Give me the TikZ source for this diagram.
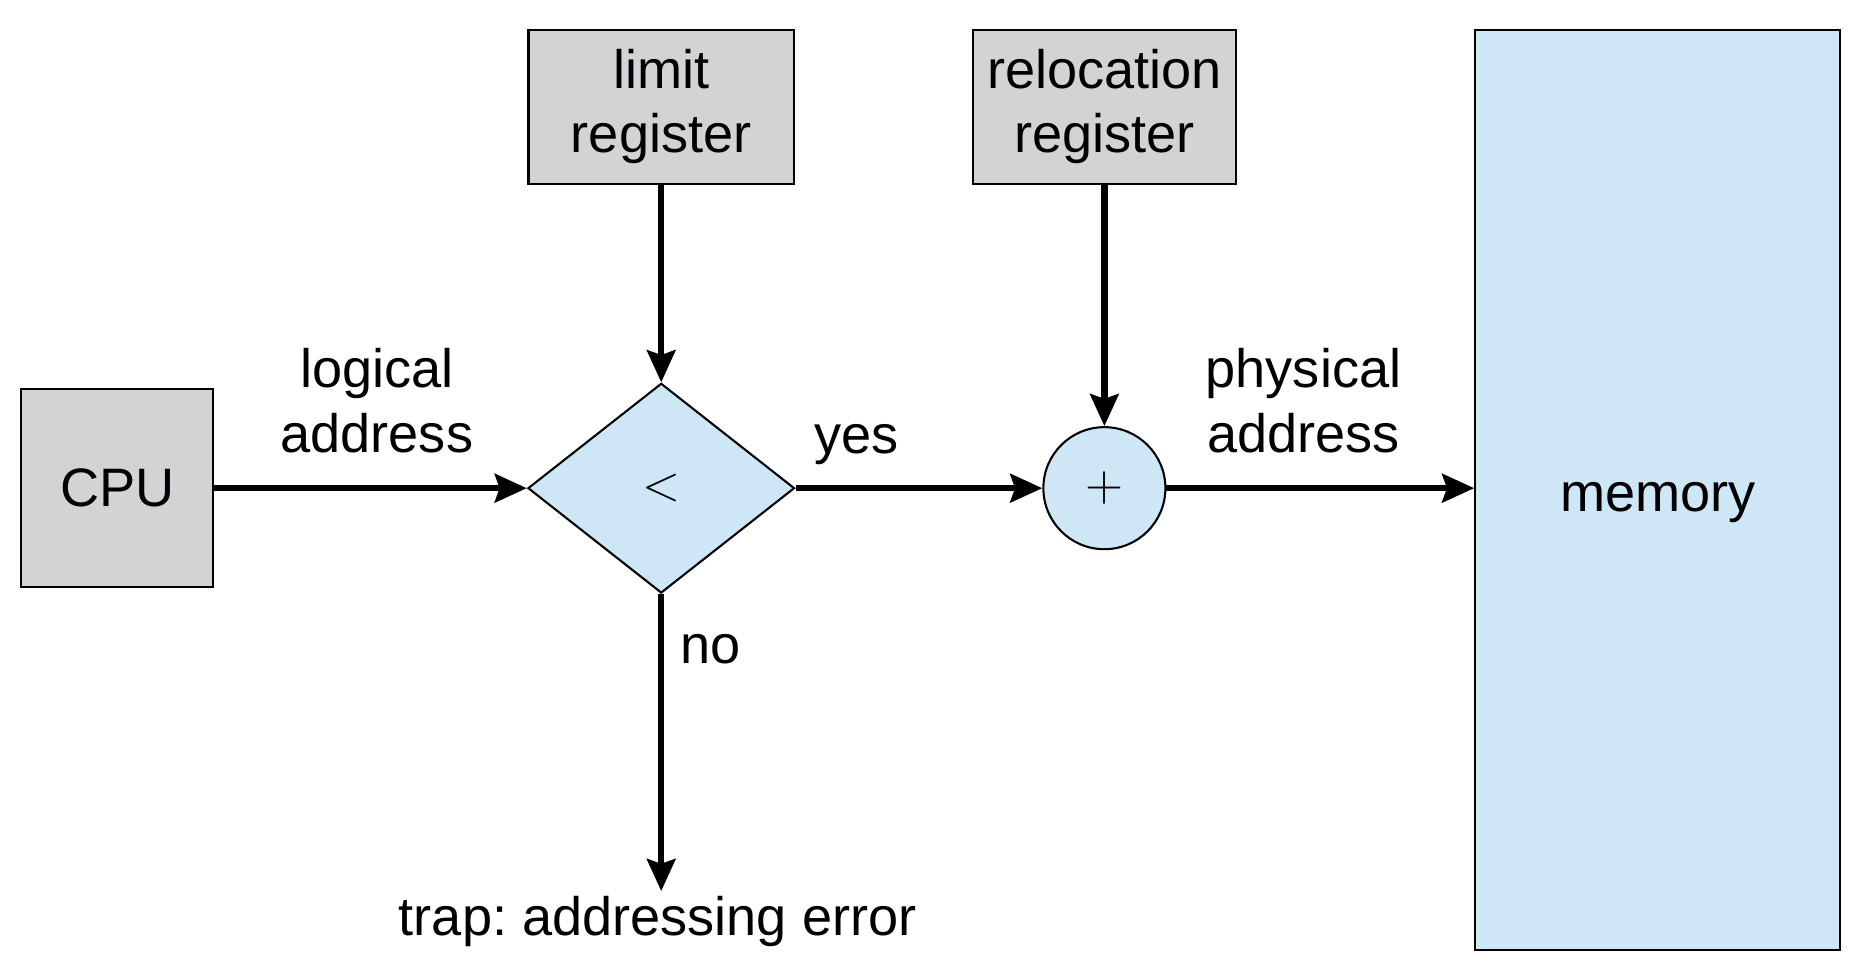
\documentclass[tikz,border=0pt]{standalone}
\usepackage{fontspec}
\setmainfont{Liberation Sans}
\usetikzlibrary{arrows.meta,shapes.geometric}
\definecolor{reggray}{RGB}{209,211,212}
\definecolor{memblue}{RGB}{205,231,246}
\frenchspacing
\begin{document}
\begin{tikzpicture}[
    font=\fontsize{13}{15.5}\selectfont,
    box/.style={draw, line width=0.5pt, fill=reggray, inner sep=0pt, align=center},
    flow/.style={-{Stealth[length=0.27cm, width=0.24cm, inset=0.04cm]}, line width=1.5pt},
    lbl/.style={align=center, inner sep=0pt}
  ]

    \useasboundingbox (0, 0) rectangle (15.68, 8.15);

    \node[box, minimum width=1.62cm, minimum height=1.67cm] (cpu) at (0.99, 4.03) {CPU};
    \node[box, minimum width=2.24cm, minimum height=1.30cm] (limit) at (5.58, 7.25) {limit\\register};
    \node[box, minimum width=2.22cm, minimum height=1.30cm] (reloc) at (9.32, 7.25) {relocation\\register};
    \node[box, fill=memblue, minimum width=3.08cm, minimum height=7.77cm] (mem) at (13.99, 4.015) {};
    \node[lbl] (memtext) at (13.99, 3.91) {memory};

    \node[draw, line width=0.5pt, fill=memblue, diamond, minimum width=2.25cm, minimum height=1.77cm,
          inner sep=0pt, aspect=1.27] (cmp) at (5.58, 4.03) {$<$};
    \node[draw, line width=0.5pt, fill=memblue, circle, minimum size=1.03cm, inner sep=0pt] (add) at (9.32, 4.03) {$+$};

    \node[lbl] (trap) at (5.55, 0.37) {trap: addressing error};
    \coordinate (trapend) at (5.58, 0.63);

    \draw[flow] (cpu) -- (cmp);
    \draw[flow] (limit) -- (cmp);
    \draw[flow] (cmp) -- (add);
    \draw[flow] (reloc) -- (add);
    \draw[flow] (add) -- (add -| mem.west);
    \draw[flow] (cmp) -- (trapend);

    \node[lbl] (logical) at (3.18, 4.77) {logical\\address};
    \node[lbl] (yes) at (7.23, 4.40) {yes};
    \node[lbl] (physical) at (11.00, 4.77) {physical\\address};
    \node[lbl] (no) at (6.00, 2.67) {no};

\end{tikzpicture}
\end{document}
